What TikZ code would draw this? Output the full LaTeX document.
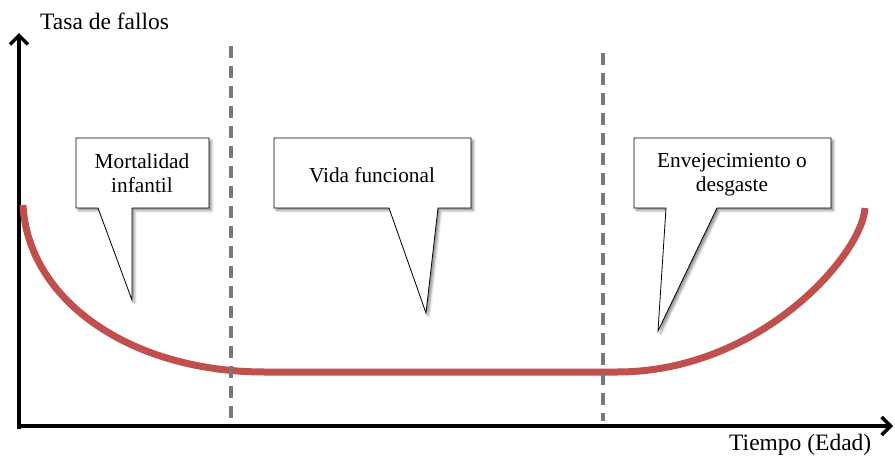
\documentclass[tikz,border=0pt]{standalone}
\usepackage{fontspec}
\setmainfont{Liberation Serif}
\usetikzlibrary{arrows.meta,shadows.blur}
\definecolor{curvered}{HTML}{C0504D}
\definecolor{phasegrey}{HTML}{787878}
\begin{document}
\begin{tikzpicture}[x=1pt,y=-1pt,
  axis/.style={line width=3.5pt,-{Straight Barb[length=9pt,width=18pt]}},
  axislabel/.style={inner sep=0pt,font=\fontsize{23.5}{28}\selectfont},
  phase/.style={phasegrey,line width=3.2pt,dash pattern=on 12pt off 8pt},
  bathtub/.style={curvered,line width=7pt},
  callout/.style={draw=black,line width=0.8pt,fill=white,line join=miter,
    blur shadow={shadow xshift=2.5pt,shadow yshift=-2.5pt,
      shadow blur radius=2.5pt,shadow opacity=45}},
  calltext/.style={inner sep=0pt,align=center,font=\fontsize{21.3}{24}\selectfont}]
  \useasboundingbox (0,0) rectangle (895,458);

  % axes
  \coordinate (origin) at (19,426);
  \coordinate (ytop) at (19,33);
  \coordinate (xend) at (893,426);
  \draw[axis] (19,429) -- (ytop);
  \draw[axis] (17,426) -- (xend);
  \node[axislabel,anchor=base west] (ylabel) at (40,29) {Tasa de fallos};
  \node[axislabel,anchor=base west] (xlabel) at (729,450) {Tiempo (Edad)};

  % bathtub curve
  \draw[bathtub] (23,205) .. controls (28,300) and (130,372) .. (265,372)
    -- (617,372) .. controls (760,372) and (862,255) .. (865,208);

  % phase boundaries, drawn over the curve
  \draw[phase] (231,46) -- (231,421);
  \draw[phase] (603,53) -- (603,421);

  % callouts
  \path[callout] (76,138) -- (209,138) -- (209,208) -- (132,208) -- (132,300)
    -- (98,208) -- (76,208) -- cycle;
  \node[calltext] (infant) at (142,173) {Mortalidad\\infantil};

  \path[callout] (274,138) -- (471,138) -- (471,208) -- (438,208) -- (426,313)
    -- (389,208) -- (274,208) -- cycle;
  \node[calltext] (useful) at (372,175) {Vida funcional};

  \path[callout] (634,138) -- (831,138) -- (831,208) -- (717,208) -- (658,331)
    -- (666,208) -- (634,208) -- cycle;
  \node[calltext] (wearout) at (732,175) {Envejecimiento o\\desgaste};
\end{tikzpicture}
\end{document}
